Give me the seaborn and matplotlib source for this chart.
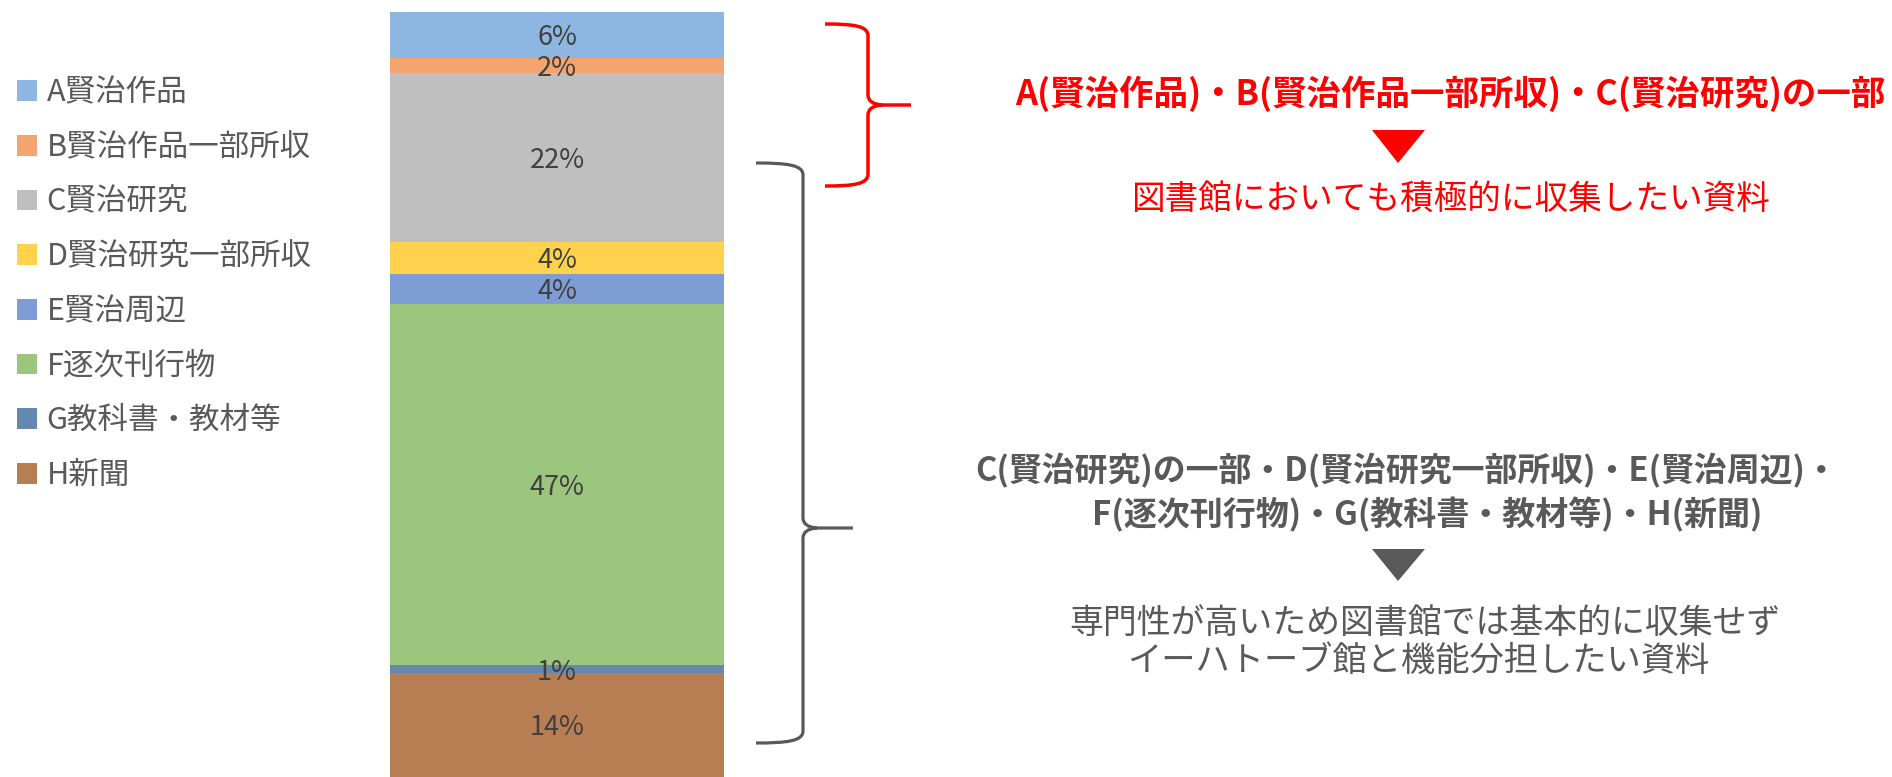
import matplotlib
matplotlib.use("Agg")
import matplotlib.pyplot as plt
from matplotlib.patches import Patch, PathPatch, Polygon
from matplotlib.path import Path
from matplotlib.transforms import offset_copy
import seaborn as sns
import numpy as np
import pandas as pd

# ---- data ----
categories = ["A賢治作品", "B賢治作品一部所収", "C賢治研究", "D賢治研究一部所収",
              "E賢治周辺", "F逐次刊行物", "G教科書・教材等", "H新聞"]
shares = [6.0, 2.0, 22.1, 4.1, 4.0, 47.2, 1.0, 13.6]
value_labels = ["6%", "2%", "22%", "4%", "4%", "47%", "1%", "14%"]
colors = ["#8DB7E2", "#F4A46E", "#BFBFBF", "#FFD24D", "#7E9DD5", "#9CC57D", "#6389B0", "#B87E53"]

red_title = "A(賢治作品)・B(賢治作品一部所収)・C(賢治研究)の一部"
red_note = "図書館においても積極的に収集したい資料"
gray_title = ["C(賢治研究)の一部・D(賢治研究一部所収)・E(賢治周辺)・",
              "F(逐次刊行物)・G(教科書・教材等)・H(新聞)"]
gray_note = ["専門性が高いため図書館では基本的に収集せず",
             "イーハトーブ館と機能分担したい資料"]

sns.set_theme(style="white")
plt.rcParams["font.family"] = ["Noto Sans CJK JP", "DejaVu Sans"]

W, H = 1892, 777
fig = plt.figure(figsize=(W / 100, H / 100), dpi=100)

ax = fig.add_axes([390 / W, 0, 334 / W, 765 / H])

# stacked bar: top of each segment measured from the bottom (H at bottom)
vals = np.array(shares)
tops = vals[::-1].cumsum()[::-1]          # cumulative top for each category
bottoms = tops - vals
for cat, top, col in zip(categories, tops, colors):
    df = pd.DataFrame({"g": ["all"], "v": [top]})
    sns.barplot(data=df, x="g", y="v", color=col, width=1.0, linewidth=0,
                saturation=1, ax=ax)

lab_tr = offset_copy(ax.transData, fig=fig, x=0, y=-3, units="dots")
for lab, b, v in zip(value_labels, bottoms, vals):
    ax.text(0, b + v / 2, lab, ha="center", va="center", fontsize=19.5,
            color="#404040", transform=lab_tr)

ax.set_xlim(-0.5, 0.5)
ax.set_ylim(0, 100)
ax.axis("off")

# legend
handles = [Patch(facecolor=c, edgecolor="none") for c in colors]
leg = fig.legend(handles, categories, loc="upper left",
                 bbox_to_anchor=(2 / W, 1 - 62 / H), frameon=False,
                 fontsize=22, handlelength=0.66, handleheight=0.66,
                 handletextpad=0.3, labelspacing=0.775, borderpad=0)
for t in leg.get_texts():
    t.set_color("#595959")


def fx(x):
    return x / W


def fy(y):
    return 1 - y / H


def brace(x0, xv, xt, ytop, ymid, ybot, color, lw):
    r = 12
    verts = [
        (x0, ytop), ((x0 + xv) / 2 + 8, ytop), (xv, ytop + 2), (xv, ytop + r),
        (xv, ymid - 10),
        (xv, ymid - 1), (xv + 14, ymid),
        (xt, ymid),
        (xv + 14, ymid),
        (xv, ymid + 1), (xv, ymid + 10),
        (xv, ybot - r),
        (xv, ybot - 2), ((x0 + xv) / 2 + 8, ybot), (x0, ybot),
    ]
    codes = [Path.MOVETO, Path.CURVE4, Path.CURVE4, Path.CURVE4,
             Path.LINETO,
             Path.CURVE3, Path.CURVE3,
             Path.LINETO,
             Path.MOVETO,
             Path.CURVE3, Path.CURVE3,
             Path.LINETO,
             Path.CURVE4, Path.CURVE4, Path.CURVE4]
    verts = [(fx(a), fy(b)) for a, b in verts]
    fig.patches.append(PathPatch(Path(verts, codes), fill=False, edgecolor=color,
                                 linewidth=lw, transform=fig.transFigure,
                                 capstyle="butt", joinstyle="round"))


brace(825, 868, 911, 24, 105, 186, "#FF0000", 2.5)
brace(756, 803, 853, 163, 528, 743, "#595959", 2.3)

# triangles
for (xc, yt, yb, col) in [(1398, 130, 163, "#FF0000"), (1398, 549, 581, "#595959")]:
    tri = Polygon([(fx(xc - 26), fy(yt)), (fx(xc + 27), fy(yt)), (fx(xc), fy(yb))],
                  closed=True, facecolor=col, edgecolor="none",
                  transform=fig.transFigure)
    fig.patches.append(tri)

# texts
fig.text(fx(1450), fy(94), red_title, ha="center", va="center", fontsize=24.8,
         fontweight="bold", color="#FF0000")
fig.text(fx(1450), fy(199), red_note, ha="center", va="center", fontsize=24.2,
         color="#FF0000")
fig.text(fx(1407), fy(471), gray_title[0], ha="center", va="center", fontsize=23.7,
         fontweight="bold", color="#595959")
fig.text(fx(1427), fy(515), gray_title[1], ha="center", va="center", fontsize=23.8,
         fontweight="bold", color="#595959")
fig.text(fx(1425), fy(624), gray_note[0], ha="center", va="center", fontsize=24.4,
         color="#595959")
fig.text(fx(1418), fy(662), gray_note[1], ha="center", va="center", fontsize=24.7,
         color="#595959")

fig.savefig("out.png", dpi=100, facecolor="white")
